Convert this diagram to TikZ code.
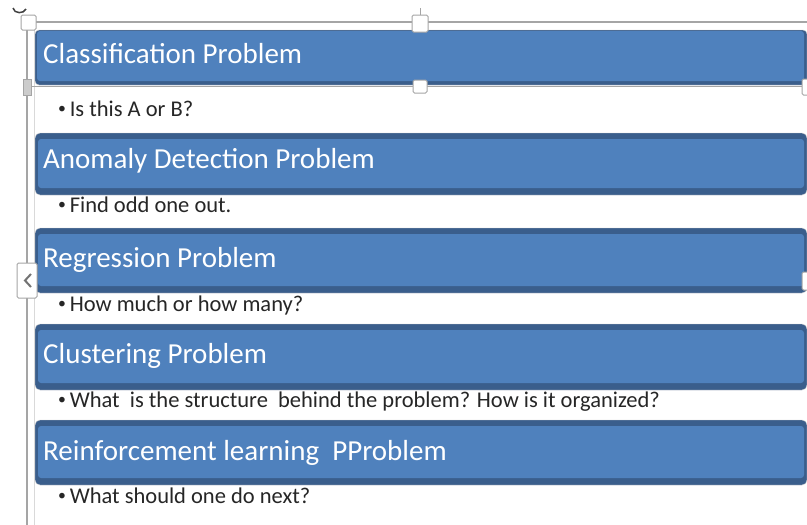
\documentclass[tikz,border=0pt]{standalone}
\usepackage{fontspec}
\setmainfont{Carlito}
\definecolor{barblue}{RGB}{79,129,189}
\definecolor{bardark}{RGB}{58,94,140}
\definecolor{framegray}{RGB}{165,165,165}
\newcommand{\smallbul}{\raisebox{2.5pt}{\scalebox{0.7}{\textbullet}}\,}

\begin{document}
\begin{tikzpicture}[
		x=1pt,
		y=-1pt,
		title/.style={anchor=base west, inner sep=0pt, text=white, font=\fontsize{29}{31}\selectfont},
		item/.style={anchor=base west, inner sep=0pt, text=black!85, font=\fontsize{22.5}{24}\selectfont},
		handle/.style={draw=framegray, fill=white, line width=1pt, rounded corners=1.5pt}
	]

		\useasboundingbox (0,0) rectangle (807,525);
		\fill [white] (0,0) rectangle (807,525);

		% selection frame
		\draw [framegray, line width=1.2pt] (27,525) -- (27,22) -- (807,22);
		\draw [black!15] (34,30) -- (34,525);

		% bar 1 (selected)
		\draw [gray!35, fill=bardark, rounded corners=4pt] (35,30) rectangle (807,85);
		\fill [barblue, rounded corners=3pt] (37,31) rectangle (804,81);
		\draw [framegray, line width=1.2pt] (27,86.5) -- (807,86.5);

		% bars 2 to 5
		\draw [gray!35, fill=bardark, rounded corners=5pt] (35,133) rectangle (807,195);
		\fill [barblue, rounded corners=3pt] (38,139) rectangle (804,188);
		\draw [gray!35, fill=bardark, rounded corners=5pt] (35,228) rectangle (807,293);
		\fill [barblue, rounded corners=3pt] (38,234) rectangle (804,286);
		\draw [gray!35, fill=bardark, rounded corners=5pt] (35,324) rectangle (807,390);
		\fill [barblue, rounded corners=3pt] (38,330) rectangle (804,383);
		\draw [gray!35, fill=bardark, rounded corners=5pt] (35,420) rectangle (807,485);
		\fill [barblue, rounded corners=3pt] (38,426) rectangle (804,478);

		% titles
		\node [title] (clstitle) at (43,63) {Classification Problem};
		\node [title] (anotitle) at (43,168) {Anomaly Detection Problem};
		\node [title] (regtitle) at (43,267) {Regression Problem};
		\node [title] (clutitle) at (43,363) {Clustering Problem};
		\node [title] (reintitle) at (43,460) {Reinforcement learning\ \ PProblem};

		% bullet texts
		\node [item] (clsitem) at (58,116) {\smallbul Is this A or B?};
		\node [item] (anoitem) at (58,212) {\smallbul Find odd one out.};
		\node [item] (regitem) at (58,311) {\smallbul How much or how many?};
		\node [item] (cluitem) at (58,407) {\smallbul What\ \ is the structure\ \ behind the problem? How is it organized?};
		\node [item] (reinitem) at (58,503) {\smallbul What should one do next?};

		% handles
		\draw [handle] (21,15) rectangle (36,30);
		\draw [framegray, line width=1pt] (420,8) -- (420,15);
		\draw [handle] (412,15) rectangle (428,32);
		\draw [handle] (413,80) rectangle (427,93);
		\draw [framegray, fill=black!20] (23,79) rectangle (31,95);
		\draw [handle] (802,79) rectangle (810,95);
		\draw [handle] (802,272) rectangle (810,290);
		\draw [handle] (17,263) rectangle (37,298);
		\draw [black!55, line width=2pt] (31,274) -- (25,280.5) -- (31,287);
		\draw [black!75, line width=1.5pt] (13,8) .. controls (14,14) and (24,14) .. (26,9);
	\end{tikzpicture}
\end{document}
